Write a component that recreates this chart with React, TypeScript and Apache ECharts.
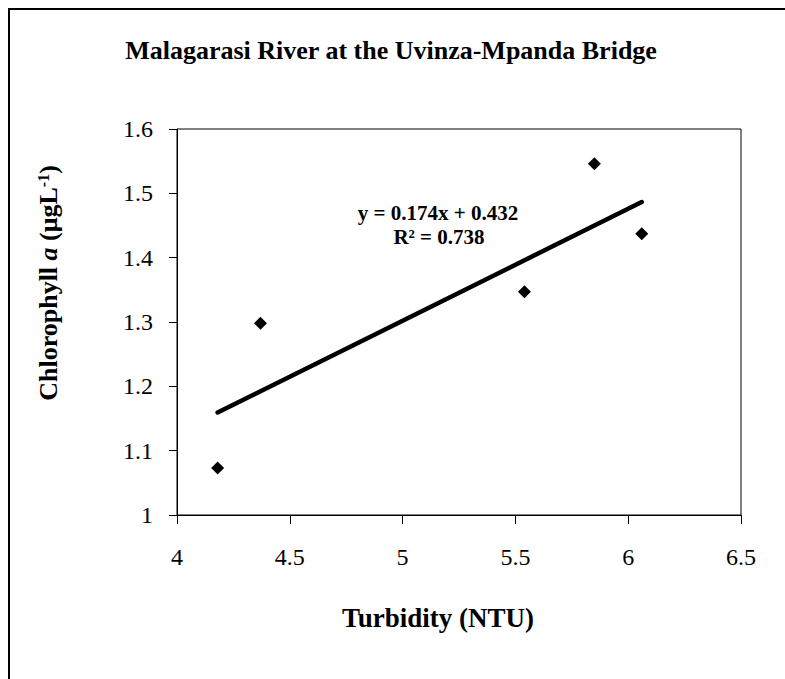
import React, { useEffect, useRef } from "react";
import * as echarts from "echarts";

const turbidity = [4.18, 4.37, 5.54, 5.85, 6.06];
const chlorophyll = [1.073, 1.298, 1.347, 1.546, 1.437];
const slope = 0.174;
const intercept = 0.432;
const trendX = [4.18, 6.06];
const xTicks = { min: 4, max: 6.5, interval: 0.5 };
const yTicks = { min: 1, max: 1.6, interval: 0.1 };
const titleText = "Malagarasi River at the Uvinza-Mpanda Bridge";
const xName = "Turbidity (NTU)";
const eqLine1 = "y = 0.174x + 0.432";
const eqLine2 = "R² = 0.738";

const FONT = "Liberation Serif";

export default function App() {
  const ref = useRef<HTMLDivElement>(null);
  useEffect(() => {
    if (!ref.current) return;
    const chart = echarts.init(ref.current, null, { renderer: "svg" });
    const points = turbidity.map((x, i) => [x, chlorophyll[i]]);
    const trend = trendX.map((x) => [x, slope * x + intercept]);
    chart.setOption({
      animation: false,
      backgroundColor: "#ffffff",
      textStyle: { fontFamily: FONT },
      grid: {
        left: 177,
        top: 129,
        right: 44,
        bottom: 164,
        show: true,
        borderColor: "#000",
        borderWidth: 1,
        backgroundColor: "transparent",
      },
      xAxis: {
        type: "value",
        min: xTicks.min,
        max: xTicks.max,
        interval: xTicks.interval,
        axisLine: { show: true, onZero: false, lineStyle: { color: "#000", width: 1 } },
        axisTick: { show: true, length: 9, lineStyle: { color: "#000" } },
        splitLine: { show: false },
        axisLabel: {
          color: "#000",
          fontSize: 24,
          fontFamily: FONT,
          margin: 30,
          formatter: (v: number) => String(Math.round(v * 10) / 10),
        },
      },
      yAxis: {
        type: "value",
        min: yTicks.min,
        max: yTicks.max,
        interval: yTicks.interval,
        axisLine: { show: true, onZero: false, lineStyle: { color: "#000", width: 1 } },
        axisTick: { show: true, length: 8, lineStyle: { color: "#000" } },
        splitLine: { show: false },
        axisLabel: {
          color: "#000",
          fontSize: 24,
          fontFamily: FONT,
          margin: 24,
          formatter: (v: number) => String(Math.round(v * 10) / 10),
        },
      },
      series: [
        {
          type: "line",
          data: trend,
          showSymbol: false,
          symbol: "none",
          lineStyle: { color: "#000", width: 4.5, cap: "round" },
          z: 2,
        },
        {
          type: "scatter",
          data: points,
          symbol: "diamond",
          symbolSize: 13,
          itemStyle: { color: "#000", opacity: 1 },
          z: 3,
        },
      ],
      graphic: [
        {
          type: "rect",
          shape: { x: 9, y: 9, width: 820, height: 720 },
          style: { fill: "none", stroke: "#000", lineWidth: 2 },
          silent: true,
        },
        {
          type: "text",
          x: 391,
          y: 50,
          style: {
            text: titleText,
            font: `bold 26px ${FONT}`,
            fill: "#000",
            align: "center",
            verticalAlign: "middle",
          },
        },
        {
          type: "text",
          x: 438,
          y: 618,
          style: {
            text: xName,
            font: `bold 27px ${FONT}`,
            fill: "#000",
            align: "center",
            verticalAlign: "middle",
          },
        },
        {
          type: "text",
          x: 48,
          y: 283,
          rotation: Math.PI / 2,
          style: {
            text: "{b|Chlorophyll }{i|a}{b| (μgL}{s|-1}{b|)}",
            fill: "#000",
            align: "center",
            verticalAlign: "middle",
            rich: {
              b: { font: `bold 26px ${FONT}`, fill: "#000" },
              i: { font: `italic bold 26px ${FONT}`, fill: "#000" },
              s: { font: `bold 16px ${FONT}`, fill: "#000", verticalAlign: "top", padding: [0, 0, 10, 0] },
            },
          },
        },
        {
          type: "text",
          x: 438,
          y: 213,
          style: {
            text: eqLine1,
            font: `bold 21px ${FONT}`,
            fill: "#000",
            align: "center",
            verticalAlign: "middle",
          },
        },
        {
          type: "text",
          x: 439,
          y: 237,
          style: {
            text: eqLine2,
            font: `bold 21px ${FONT}`,
            fill: "#000",
            align: "center",
            verticalAlign: "middle",
          },
        },
      ],
    });
    return () => chart.dispose();
  }, []);
  return (
    <div
      ref={ref}
      style={{ position: "fixed", left: 0, top: 0, width: 785, height: 679 }}
    />
  );
}
